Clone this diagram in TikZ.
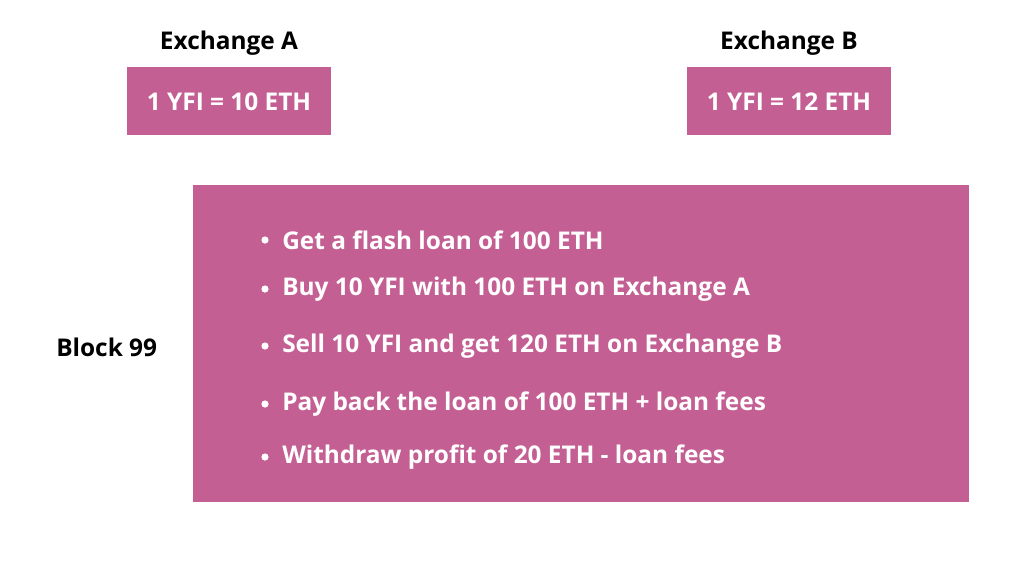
\documentclass[tikz,border=0pt]{standalone}
\usepackage{fontspec}
\setmainfont{Open Sans}[BoldFont={* Bold}]
\definecolor{pinkbox}{HTML}{C45F94}
\begin{document}
\begin{tikzpicture}[x=0.75pt,y=-0.75pt,
  box/.style={fill=pinkbox,draw=none},
  wtext/.style={text=white,font=\fontsize{18.3}{22}\selectfont\bfseries,inner sep=0pt},
  btext/.style={text=black,font=\fontsize{18.3}{22}\selectfont\bfseries,inner sep=0pt},
  item/.style={wtext,anchor=west}]
\useasboundingbox (0,0) rectangle (1024,572);
\fill[white] (0,0) rectangle (1024,572);
\path[box] (127,67) rectangle (331,135);
\path[box] (687,67) rectangle (891,135);
\path[box] (193,185) rectangle (969,502);
\node[btext] (exa) at (229,43) {Exchange A};
\node[btext] (exb) at (789,43) {Exchange B};
\node[wtext] (pa) at (229,102) {1 YFI = 10 ETH};
\node[wtext] (pb) at (789,102) {1 YFI = 12 ETH};
\node[btext,anchor=west] (blk) at (56,347) {Block 99};
\foreach \y/\t [count=\i] in {240/Get a flash loan of 100 ETH,
  289/Buy 10 YFI with 100 ETH on Exchange A,
  346/Sell 10 YFI and get 120 ETH on Exchange B,
  404/Pay back the loan of 100 ETH + loan fees,
  457/Withdraw profit of 20 ETH - loan fees}{
  \fill[white] (265,\y) circle (3.6);
  \node[item] (it\i) at (282,\y) {\t};
}
\end{tikzpicture}
\end{document}
